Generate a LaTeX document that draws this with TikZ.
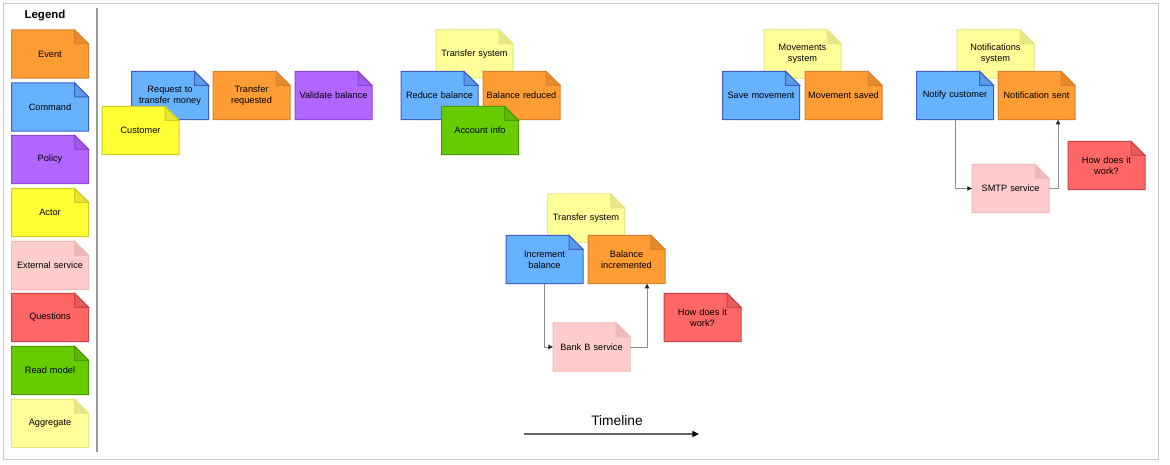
\documentclass[tikz,border=0pt]{standalone}
\usepackage{fontspec}
\setmainfont{Liberation Sans}
\usetikzlibrary{arrows.meta,calc}
\makeatletter
\def\snfold{10.5pt}
\def\snfoldcolor{black!15}
\pgfdeclareshape{stickynote}{%
  \inheritsavedanchors[from=rectangle]%
  \inheritanchorborder[from=rectangle]%
  \inheritanchor[from=rectangle]{center}%
  \inheritanchor[from=rectangle]{north}%
  \inheritanchor[from=rectangle]{south}%
  \inheritanchor[from=rectangle]{east}%
  \inheritanchor[from=rectangle]{west}%
  \inheritanchor[from=rectangle]{north east}%
  \inheritanchor[from=rectangle]{north west}%
  \inheritanchor[from=rectangle]{south east}%
  \inheritanchor[from=rectangle]{south west}%
  \inheritanchor[from=rectangle]{text}%
  \inheritanchor[from=rectangle]{mid}%
  \inheritanchor[from=rectangle]{base}%
  \backgroundpath{%
    \southwest \edef\snxa{\the\pgf@x}\edef\snya{\the\pgf@y}%
    \northeast \edef\snxb{\the\pgf@x}\edef\snyb{\the\pgf@y}%
    \pgfpathmoveto{\pgfpoint{\snxa}{\snya}}%
    \pgfpathlineto{\pgfpoint{\snxa}{\snyb}}%
    \pgfpathlineto{\pgfpoint{\snxb-\snfold}{\snyb}}%
    \pgfpathlineto{\pgfpoint{\snxb}{\snyb-\snfold}}%
    \pgfpathlineto{\pgfpoint{\snxb}{\snya}}%
    \pgfpathclose
  }%
  \beforebackgroundpath{%
    \pgfscope
    \southwest \edef\snxa{\the\pgf@x}\edef\snya{\the\pgf@y}%
    \northeast \edef\snxb{\the\pgf@x}\edef\snyb{\the\pgf@y}%
    \pgfpathmoveto{\pgfpoint{\snxb-\snfold}{\snyb}}%
    \pgfpathlineto{\pgfpoint{\snxb-\snfold}{\snyb-\snfold}}%
    \pgfpathlineto{\pgfpoint{\snxb}{\snyb-\snfold}}%
    \pgfpathclose
    \pgfsetfillcolor{\snfoldcolor}%
    \pgfusepath{fill,stroke}%
    \endpgfscope
  }%
}
\makeatother
\definecolor{cEvt}{HTML}{FF9C33}\definecolor{cEvtD}{HTML}{D9822B}\definecolor{cEvtF}{HTML}{E68A2E}
\definecolor{cCmd}{HTML}{66B2FF}\definecolor{cCmdD}{HTML}{3D5FC7}\definecolor{cCmdF}{HTML}{5A9DE6}
\definecolor{cPol}{HTML}{B266FF}\definecolor{cPolD}{HTML}{8F45D9}\definecolor{cPolF}{HTML}{9E5AE6}
\definecolor{cAct}{HTML}{FFFF33}\definecolor{cActD}{HTML}{CCCC29}\definecolor{cActF}{HTML}{E6E62E}
\definecolor{cExt}{HTML}{FFCCCC}\definecolor{cExtD}{HTML}{F5B8B8}\definecolor{cExtF}{HTML}{EDB8B8}
\definecolor{cQst}{HTML}{FF6666}\definecolor{cQstD}{HTML}{CC4444}\definecolor{cQstF}{HTML}{E65A5A}
\definecolor{cRdm}{HTML}{66CC00}\definecolor{cRdmD}{HTML}{4D9900}\definecolor{cRdmF}{HTML}{5CB800}
\definecolor{cAgg}{HTML}{FFFF99}\definecolor{cAggD}{HTML}{E6E67A}\definecolor{cAggF}{HTML}{E6E68A}
\tikzset{
  fold color/.store in=\snfoldcolor,
  sticky/.style={shape=stickynote, minimum width=57pt, minimum height=35.5pt,
    text width=54pt, align=center, inner sep=0pt, line width=0.75pt,
    font=\fontsize{6.9}{8.3}\selectfont},
  evt/.style={sticky, fill=cEvt, draw=cEvtD, fold color=cEvtF},
  cmd/.style={sticky, fill=cCmd, draw=cCmdD, fold color=cCmdF},
  pol/.style={sticky, fill=cPol, draw=cPolD, fold color=cPolF},
  act/.style={sticky, fill=cAct, draw=cActD, fold color=cActF},
  ext/.style={sticky, fill=cExt, draw=cExtD, fold color=cExtF},
  qst/.style={sticky, fill=cQst, draw=cQstD, fold color=cQstF},
  rdm/.style={sticky, fill=cRdm, draw=cRdmD, fold color=cRdmF},
  agg/.style={sticky, fill=cAgg, draw=cAggD, fold color=cAggF},
  flow/.style={draw=black!45, line width=0.75pt, -{Triangle[length=3.5pt,width=3.2pt,color=black!85]}},
  timeline/.style={draw=black!60, line width=1.1pt, -{Triangle[length=5pt,width=4.5pt,color=black]}}
}
\begin{document}
\begin{tikzpicture}[x=0.75pt,y=-0.75pt]
\useasboundingbox (0,0) rectangle (1170,464);
\draw[black!22, line width=0.75pt] (3,3) rectangle (1158,459);
\draw[black!40, line width=1.5pt] (97,8) -- (97,452);
% legend
\node[font=\fontsize{8.6}{10}\selectfont\bfseries] (legend) at (45,15.5) {Legend};
\node[evt] (lgevt) at (50,54) {Event};
\node[cmd] (lgcmd) at (50,107) {Command};
\node[pol] (lgpol) at (50,159.5) {Policy};
\node[act] (lgact) at (50,212.5) {Actor};
\node[ext] (lgext) at (50,265.5) {External service};
\node[qst] (lgqst) at (50,317.5) {Questions};
\node[rdm] (lgrdm) at (50,370.5) {Read model};
\node[agg] (lgagg) at (50,423.5) {Aggregate};
% group 1
\node[cmd] (req) at (170,95.5) {Request to\\transfer money};
\node[act] (cust) at (140.5,130.5) {Customer};
\node[evt] (treq) at (251.5,95.5) {Transfer\\requested};
\node[pol] (valb) at (333.5,95.5) {Validate balance};
% group 2
\node[agg] (agg1) at (474.5,54) {Transfer system};
\node[cmd] (redb) at (439.5,95.5) {Reduce balance};
\node[evt] (balred) at (521.5,95.5) {Balance reduced};
\node[rdm] (acc) at (480,130.5) {Account info};
% group 3
\node[agg] (agg2) at (802.5,54) {Movements\\system};
\node[cmd] (savem) at (761,95.5) {Save movement};
\node[evt] (movs) at (843.5,95.5) {Movement saved};
% group 4
\node[agg] (agg3) at (995.5,54) {Notifications\\system};
\node[cmd] (notc) at (955,95.5) {Notify customer};
\node[evt] (nots) at (1036.5,95.5) {Notification sent};
\node[ext] (smtp) at (1010.5,188.5) {SMTP service};
\node[qst] (q1) at (1106.5,165.5) {How does it\\work?};
% group 5
\node[agg] (agg4) at (586,218) {Transfer system};
\node[cmd] (incb) at (544.5,259.5) {Increment\\balance};
\node[evt] (balinc) at (626.5,259.5) {Balance\\incremented};
\node[qst] (q2) at (702.5,317.5) {How does it\\work?};
\node[ext] (bankb) at (591.5,347) {Bank B service};
% connectors
\draw[flow] (incb.south) |- (bankb.west);
\draw[flow] (bankb.east) -| ($(balinc.south)+(20.5,0)$);
\draw[flow] (notc.south) |- (smtp.west);
\draw[flow] (smtp.east) -| ($(nots.south)+(21.5,0)$);
% timeline
\node[font=\fontsize{10.3}{12}\selectfont] (tltext) at (617,421) {Timeline};
\coordinate (tlstart) at (524,434);
\coordinate (tlend) at (699,434);
\draw[timeline] (tlstart) -- (tlend);
\end{tikzpicture}
\end{document}
